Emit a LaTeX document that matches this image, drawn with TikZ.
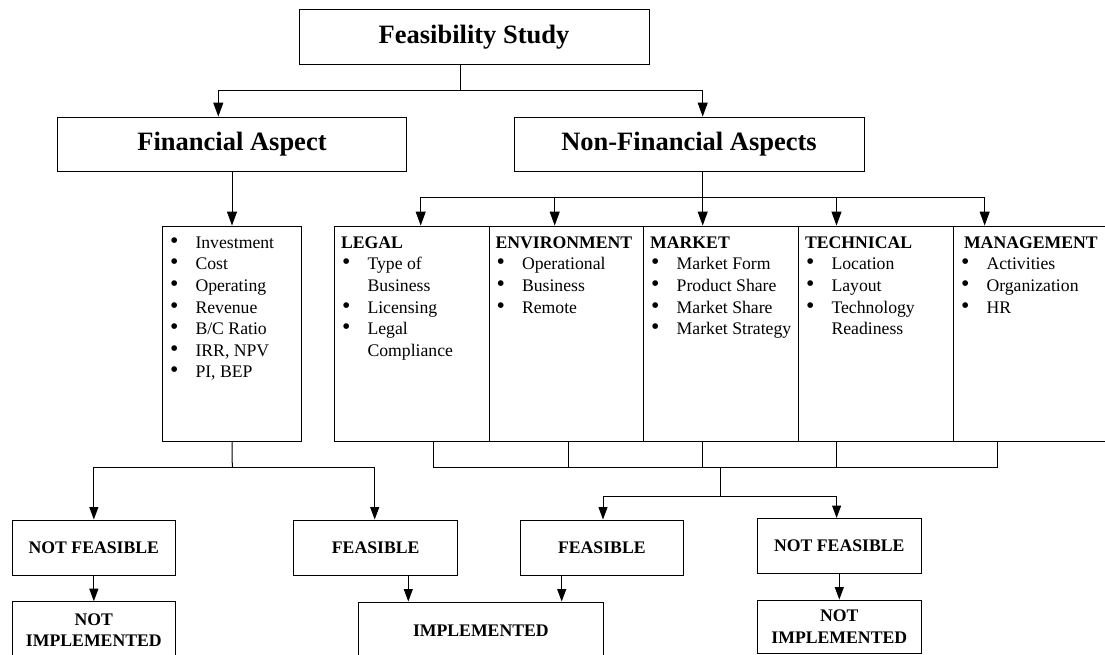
\documentclass[tikz,border=0pt]{standalone}
\usepackage{fontspec}
\setmainfont{Liberation Serif}
\usetikzlibrary{arrows.meta}
\newcommand\bul{\scalebox{1.35}{\textbullet}}
\newcommand\itm[1]{\hspace*{1pt}\makebox[25.5pt][l]{\bul}#1}
\newcommand\cnt[1]{\hspace*{26.5pt}#1}
\newcommand\smallfs{\fontsize{17.7}{21.6}\selectfont}
\newcommand\bigfs{\fontsize{26.5}{30}\selectfont\bfseries}
\tikzset{
  box/.style={draw, line width=1pt, inner sep=0pt, align=center},
  bigbox/.style={box, minimum height=54.5pt, font=\bigfs},
  smbox/.style={box, minimum height=55pt, font=\smallfs\bfseries},
  colbox/.style={box, minimum height=215.3pt},
  lst/.style={inner sep=0pt, anchor=base west, font=\smallfs},
  conn/.style={line width=1pt},
  arr/.style={conn, -{Triangle[length=14pt,width=10pt]}},
  sarr/.style={conn, -{Triangle[length=12.5pt,width=9pt]}}
}
\begin{document}
\begin{tikzpicture}[x=1pt,y=-1pt]
\useasboundingbox (0,0) rectangle (1105,655);
% top level
\node[bigbox, minimum width=350pt] (fs) at (474,37) {Feasibility Study};
\node[bigbox, minimum width=349.4pt] (fa) at (232,144.3) {Financial Aspect};
\node[bigbox, minimum width=350pt] (nfa) at (689,144.3) {Non-Financial Aspects};
% financial list
\node[colbox, minimum width=139.4pt] (fl) at (232,333.7) {};
% non-financial columns
\node[colbox, minimum width=155pt] (c1) at (411.8,333.7) {};
\node[colbox, minimum width=154.2pt] (c2) at (566.4,333.7) {};
\node[colbox, minimum width=154.8pt] (c3) at (720.9,333.7) {};
\node[colbox, minimum width=155pt] (c4) at (875.8,333.7) {};
\node[colbox, minimum width=156.7pt] (c5) at (1031.65,333.7) {};
% list texts
\node[lst] (tl) at (168.8,248.3) {\begin{tabular}[t]{@{}l@{}}
\itm{Investment}\\ \itm{Cost}\\ \itm{Operating}\\ \itm{Revenue}\\ \itm{B/C Ratio}\\ \itm{IRR, NPV}\\ \itm{PI, BEP}\end{tabular}};
\node[lst] (t1) at (340.8,248.3) {\begin{tabular}[t]{@{}l@{}}
\textbf{LEGAL}\\ \itm{Type of}\\ \cnt{Business}\\ \itm{Licensing}\\ \itm{Legal}\\ \cnt{Compliance}\end{tabular}};
\node[lst] (t2) at (495.3,248.3) {\begin{tabular}[t]{@{}l@{}}
\textbf{ENVIRONMENT}\\ \itm{Operational}\\ \itm{Business}\\ \itm{Remote}\end{tabular}};
\node[lst] (t3) at (650.0,248.3) {\begin{tabular}[t]{@{}l@{}}
\textbf{MARKET}\\ \itm{Market Form}\\ \itm{Product Share}\\ \itm{Market Share}\\ \itm{Market Strategy}\end{tabular}};
\node[lst] (t4) at (804.8,248.3) {\begin{tabular}[t]{@{}l@{}}
\textbf{TECHNICAL}\\ \itm{Location}\\ \itm{Layout}\\ \itm{Technology}\\ \cnt{Readiness}\end{tabular}};
\node[lst] (t5) at (959.8,248.3) {\begin{tabular}[t]{@{}l@{}}
\hspace*{4pt}\textbf{MANAGEMENT}\\ \itm{Activities}\\ \itm{Organization}\\ \itm{HR}\end{tabular}};
% outcome boxes
\node[smbox, minimum width=163.7pt] (nf1) at (93.85,547.5) {NOT FEASIBLE};
\node[smbox, minimum width=164pt] (f1) at (375.7,547.5) {FEASIBLE};
\node[smbox, minimum width=163.7pt] (f2) at (601.85,547.5) {FEASIBLE};
\node[smbox, minimum width=164pt] (nf2) at (839.3,546) {NOT FEASIBLE};
\node[smbox, minimum width=163.7pt, minimum height=57pt] (ni1) at (93.85,630.2) {NOT\\IMPLEMENTED};
\node[smbox, minimum width=244.3pt, minimum height=57pt] (impl) at (480.85,630.5) {IMPLEMENTED};
\node[smbox, minimum width=164pt, minimum height=53.3pt] (ni2) at (839.3,626.7) {NOT\\IMPLEMENTED};
% connectors: top
\coordinate (bus1) at (460.7,90.3);
\draw[conn] (fs.south -| bus1) -- (bus1);
\draw[arr] (bus1) -| ([xshift=-13.7pt]fa.north);
\draw[arr] (bus1) -| ([xshift=13.7pt]nfa.north);
\draw[arr] (fa.south) -- (fl.north);
% non-financial fan out
\coordinate (bus2) at (702.7,197.3);
\draw[conn] ([xshift=13.7pt]nfa.south) -- (bus2);
\draw[arr] (bus2) -| ([xshift=8.9pt]c1.north);
\draw[arr] (bus2) -| ([xshift=-11.7pt]c2.north);
\draw[arr] (bus2) -- ([xshift=-18.2pt]c3.north);
\draw[arr] (bus2) -| ([xshift=-39.3pt]c4.north);
\draw[arr] (bus2) -| ([xshift=-47pt]c5.north);
% non-financial fan in
\coordinate (bus3) at (720,467.3);
\draw[conn] ([xshift=21.9pt]c1.south) |- (bus3);
\draw[conn] ([xshift=1.9pt]c2.south) |- (bus3);
\draw[conn] ([xshift=-18.6pt]c3.south) |- (bus3);
\draw[conn] ([xshift=-39.1pt]c4.south) |- (bus3);
\draw[conn] ([xshift=-34pt]c5.south) |- (bus3);
\coordinate (bus4) at (720,496.7);
\draw[conn] (bus3) -- (bus4);
\draw[sarr] (bus4) -| ([xshift=1.15pt]f2.north);
\draw[sarr] (bus4) -| ([xshift=-2.7pt]nf2.north);
% financial fan out
\coordinate (bus5) at (232.3,467.3);
\draw[conn] (fl.south) -- (bus5);
\draw[sarr] (bus5) -| (nf1.north);
\draw[sarr] (bus5) -| ([xshift=-1pt]f1.north);
% to implementation
\draw[sarr] (nf1.south) -- (ni1.north);
\draw[sarr] ([xshift=32.6pt]f1.south) -- ([xshift=32.6pt]f1.south |- impl.north);
\draw[sarr] ([xshift=-40.15pt]f2.south) -- ([xshift=-40.15pt]f2.south |- impl.north);
\draw[sarr] (nf2.south) -- (ni2.north);
\end{tikzpicture}
\end{document}
